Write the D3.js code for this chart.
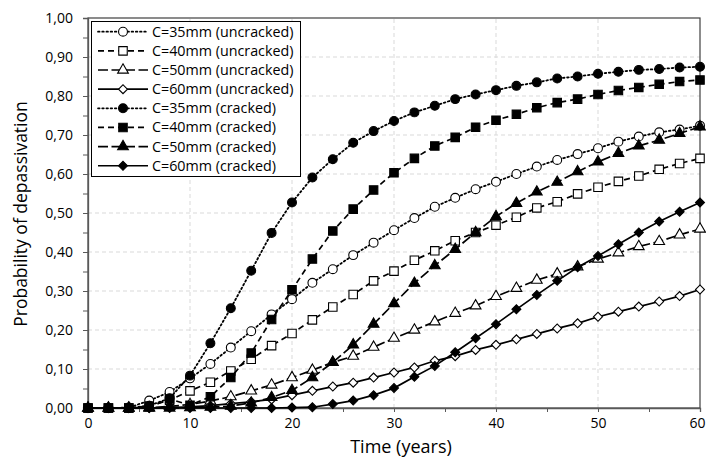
<!DOCTYPE html>
<html>
<head>
<meta charset="utf-8">
<script src="https://cdn.jsdelivr.net/npm/d3@7"></script>
<style>
  body { margin: 0; background: #fff; }
  svg text { font-family: "Open Sans", "DejaVu Sans", sans-serif; fill: #000; }
</style>
</head>
<body>
<svg id="chart" width="706" height="457"></svg>
<script>
// --- Data ---
const years = [0, 2, 4, 6, 8, 10, 12, 14, 16, 18, 20, 22, 24, 26, 28, 30,
               32, 34, 36, 38, 40, 42, 44, 46, 48, 50, 52, 54, 56, 58, 60];

const c35Uncracked = [0, 0, 0.001, 0.019, 0.041, 0.076, 0.113, 0.155, 0.197, 0.240, 0.279, 0.321, 0.356, 0.392, 0.424, 0.456,
                      0.487, 0.516, 0.539, 0.561, 0.580, 0.600, 0.619, 0.636, 0.651, 0.666, 0.683, 0.696, 0.707, 0.714, 0.724];
const c40Uncracked = [0, 0, 0, 0.005, 0.020, 0.044, 0.066, 0.095, 0.125, 0.160, 0.191, 0.226, 0.259, 0.291, 0.326, 0.351,
                      0.379, 0.403, 0.429, 0.450, 0.469, 0.489, 0.513, 0.529, 0.549, 0.566, 0.581, 0.595, 0.612, 0.627, 0.640];
const c50Uncracked = [0, 0, 0, 0.001, 0.004, 0.009, 0.018, 0.029, 0.044, 0.059, 0.078, 0.097, 0.117, 0.133, 0.156, 0.179,
                      0.200, 0.221, 0.243, 0.262, 0.286, 0.307, 0.328, 0.344, 0.362, 0.382, 0.398, 0.414, 0.427, 0.444, 0.459];
const c60Uncracked = [0, 0, 0, 0, 0.001, 0.003, 0.006, 0.011, 0.016, 0.022, 0.033, 0.044, 0.055, 0.065, 0.078, 0.091,
                      0.104, 0.121, 0.133, 0.149, 0.162, 0.176, 0.190, 0.204, 0.217, 0.234, 0.247, 0.260, 0.273, 0.287, 0.304];
const c35Cracked   = [0, 0, 0, 0.006, 0.025, 0.083, 0.166, 0.256, 0.352, 0.449, 0.527, 0.591, 0.638, 0.680, 0.710, 0.736,
                      0.758, 0.775, 0.792, 0.804, 0.815, 0.826, 0.835, 0.845, 0.850, 0.857, 0.862, 0.867, 0.869, 0.873, 0.875];
const c40Cracked   = [0, 0, 0, 0.003, 0.023, 0.007, 0.029, 0.078, 0.141, 0.227, 0.303, 0.382, 0.454, 0.510, 0.559, 0.603,
                      0.640, 0.672, 0.694, 0.720, 0.738, 0.753, 0.770, 0.783, 0.792, 0.804, 0.814, 0.822, 0.830, 0.837, 0.841];
const c50Cracked   = [0, 0, 0, 0, 0, 0.001, 0.002, 0.005, 0.013, 0.027, 0.045, 0.078, 0.117, 0.162, 0.215, 0.268,
                      0.320, 0.365, 0.407, 0.450, 0.491, 0.525, 0.554, 0.579, 0.606, 0.631, 0.653, 0.672, 0.687, 0.704, 0.721];
const c60Cracked   = [0, 0, 0, 0, 0, 0, 0, 0, 0, 0, 0.001, 0.002, 0.010, 0.019, 0.033, 0.051,
                      0.080, 0.108, 0.143, 0.179, 0.215, 0.253, 0.290, 0.326, 0.361, 0.390, 0.420, 0.450, 0.478, 0.503, 0.527];

const seriesNames = ["C=35mm (uncracked)", "C=40mm (uncracked)", "C=50mm (uncracked)", "C=60mm (uncracked)",
                     "C=35mm (cracked)", "C=40mm (cracked)", "C=50mm (cracked)", "C=60mm (cracked)"];
const seriesValues = [c35Uncracked, c40Uncracked, c50Uncracked, c60Uncracked,
                      c35Cracked, c40Cracked, c50Cracked, c60Cracked];

const xTicks = [0, 10, 20, 30, 40, 50, 60];
const yTicks = [0, 0.1, 0.2, 0.3, 0.4, 0.5, 0.6, 0.7, 0.8, 0.9, 1.0];

// styles per series: marker, filled, line dash
const styles = [
  { sym: d3.symbolCircle,   size: 62, filled: false, dash: "1.6,2.6" },
  { sym: d3.symbolSquare,   size: 72, filled: false, dash: "6,4" },
  { sym: d3.symbolTriangle, size: 50, filled: false, dash: "10,3.5" },
  { sym: d3.symbolSquare,   size: 40, filled: false, dash: null, rot: 45 },
  { sym: d3.symbolCircle,   size: 62, filled: true,  dash: "1.6,2.6" },
  { sym: d3.symbolSquare,   size: 72, filled: true,  dash: "6,4" },
  { sym: d3.symbolTriangle, size: 50, filled: true,  dash: "10,3.5" },
  { sym: d3.symbolSquare,   size: 40, filled: true,  dash: null, rot: 45 }
];

const svg = d3.select("#chart");
const margin = { left: 88, right: 6, top: 18, bottom: 49 };
const W = 706, H = 457;

const x = d3.scaleLinear().domain([0, 60]).range([margin.left, W - margin.right]);
const y = d3.scaleLinear().domain([0, 1]).range([H - margin.bottom, margin.top]);

// gridlines
svg.append("g")
  .selectAll("line.hgrid")
  .data(yTicks.slice(1, -1))
  .enter().append("line")
  .attr("x1", x(0)).attr("x2", x(60))
  .attr("y1", d => y(d)).attr("y2", d => y(d))
  .attr("stroke", "#d9d9d9").attr("stroke-dasharray", "4,3");

svg.append("g")
  .selectAll("line.vgrid")
  .data(xTicks.slice(1, -1))
  .enter().append("line")
  .attr("x1", d => x(d)).attr("x2", d => x(d))
  .attr("y1", y(0)).attr("y2", y(1))
  .attr("stroke", "#d9d9d9").attr("stroke-dasharray", "4,3");

// frame
svg.append("rect")
  .attr("x", x(0)).attr("y", y(1))
  .attr("width", x(60) - x(0)).attr("height", y(0) - y(1))
  .attr("fill", "none").attr("stroke", "#404040").attr("stroke-width", 1.2);

// axes
const xAxis = d3.axisBottom(x).tickValues(d3.range(0, 61, 5)).tickSize(4)
  .tickFormat(d => d % 10 === 0 ? d : "");
const gx = svg.append("g").attr("transform", `translate(0,${y(0)})`).call(xAxis);
gx.select(".domain").attr("stroke", "#595959").attr("stroke-width", 1.3);
gx.selectAll(".tick line").attr("stroke", "#595959");
gx.selectAll(".tick text").attr("font-size", 14).attr("dy", "0.95em")
  .style("font-family", "'Open Sans', sans-serif");
// last label would run past the window edge: anchor it at its right end
gx.selectAll(".tick text").filter(d => d === 60)
  .attr("text-anchor", "end").attr("x", W - 1 - x(60));

const fmt = d => d3.format(".2f")(d).replace(".", ",");
const yAxis = d3.axisLeft(y).tickValues(d3.range(0, 1.001, 0.05)).tickSize(5)
  .tickFormat((d, i) => i % 2 === 0 ? fmt(d) : "");
const gy = svg.append("g").attr("transform", `translate(${x(0)},0)`).call(yAxis);
gy.select(".domain").attr("stroke", "#595959").attr("stroke-width", 1.3);
gy.selectAll(".tick line").attr("stroke", "#595959");
gy.selectAll(".tick text").attr("font-size", 14).attr("x", -15)
  .style("font-family", "'Open Sans', sans-serif");

// axis titles
svg.append("text")
  .attr("x", 401).attr("y", 453)
  .attr("text-anchor", "middle").attr("font-size", 18)
  .text("Time (years)");

svg.append("text")
  .attr("transform", "translate(27,214) rotate(-90)")
  .attr("text-anchor", "middle").attr("font-size", 17.5)
  .text("Probability of depassivation");

// series
const line = d3.line().x(d => x(d.t)).y(d => y(d.v));

function drawMarker(g, st) {
  g.append("path")
    .attr("d", d3.symbol().type(st.sym).size(st.size))
    .attr("transform", st.rot ? `rotate(${st.rot})` : null)
    .attr("fill", st.filled ? "#000" : "#fff")
    .attr("stroke", "#000").attr("stroke-width", 1.1);
}

seriesValues.forEach((vals, i) => {
  const st = styles[i];
  const pts = years.map((t, k) => ({ t, v: vals[k] }));
  const g = svg.append("g");
  g.append("path")
    .datum(pts)
    .attr("d", line)
    .attr("fill", "none").attr("stroke", "#000")
    .attr("stroke-width", st.dash && st.dash.startsWith("1.6") ? 1.8 : 1.7)
    .attr("stroke-dasharray", st.dash)
    .attr("stroke-linecap", st.dash && st.dash.startsWith("1.6") ? "round" : "butt");
  g.selectAll("g.mk")
    .data(pts)
    .enter().append("g")
    .attr("transform", d => `translate(${x(d.t)},${y(d.v)})`)
    .each(function () { drawMarker(d3.select(this), st); });
});

// legend
const lg = svg.append("g");
lg.append("rect")
  .attr("x", 91.5).attr("y", 21.5).attr("width", 209).attr("height", 155)
  .attr("fill", "#fff").attr("stroke", "#000").attr("stroke-width", 1);

seriesNames.forEach((name, i) => {
  const st = styles[i];
  const cy = 31.7 + i * 19.15;
  lg.append("line")
    .attr("x1", 98).attr("x2", 148).attr("y1", cy).attr("y2", cy)
    .attr("stroke", "#000").attr("stroke-width", 1.7)
    .attr("stroke-dasharray", st.dash)
    .attr("stroke-linecap", st.dash && st.dash.startsWith("1.6") ? "round" : "butt");
  const m = lg.append("g").attr("transform", `translate(123,${cy})`);
  drawMarker(m, st);
  lg.append("text")
    .attr("x", 152).attr("y", cy).attr("dy", "0.35em")
    .attr("font-size", 14.3)
    .text(name);
});
</script>
</body>
</html>
